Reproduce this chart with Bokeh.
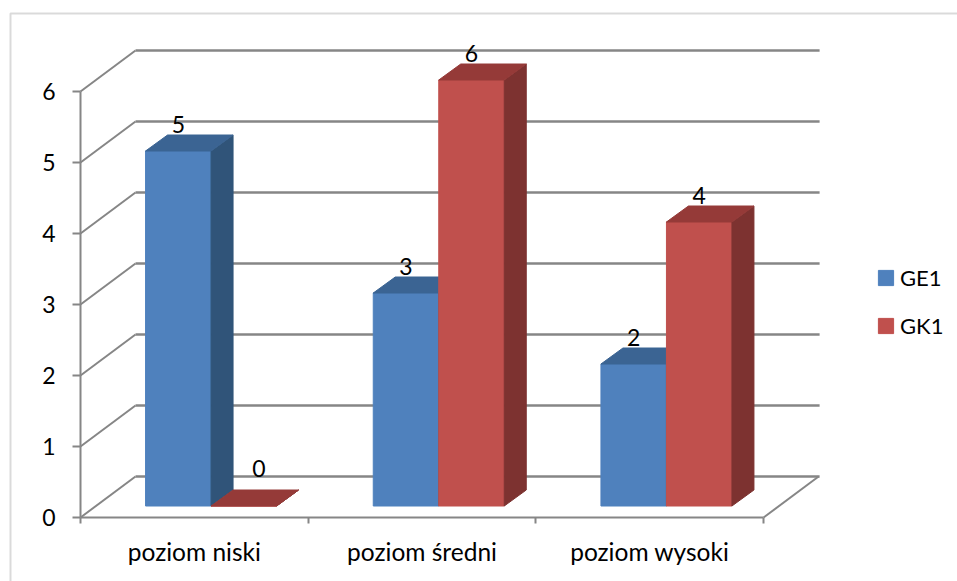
from bokeh.plotting import figure
from bokeh.models import Range1d, FixedTicker, Legend, LegendItem, BoxAnnotation, ColumnDataSource
from bokeh.core.properties import value
from bokeh.embed import file_html
from bokeh.resources import INLINE

categories = ["poziom niski", "poziom średni", "poziom wysoki"]
ge1 = [5, 3, 2]
gk1 = [0, 6, 4]
y_ticks = [0, 1, 2, 3, 4, 5, 6]

FONT = "Lato"
FS = "23px"
FS_LEG = "22px"
FS_CAT = "24.5px"
GRID = "#868686"
X0, Y0 = 80, 517           # window pixels of the origin
PX_X, PX_Y = 227.7, 71.0   # pixels per category / per unit
W, H = 957, 581
DEPTH_X, DEPTH_Y = 55 / PX_X, 41 / PX_Y
FRONT_X, FRONT_Y = 16.7 / PX_X, 11.5 / PX_Y
BAR_W = 65.5 / PX_X
BAR_DX, BAR_DY = 22 / PX_X, 16 / PX_Y

p = figure(width=W, height=H, output_backend="svg", toolbar_location=None,
           x_range=Range1d((0 - X0) / PX_X, (W - X0) / PX_X),
           y_range=Range1d((Y0 - H) / PX_Y, Y0 / PX_Y),
           min_border=0, min_border_left=0, min_border_right=0,
           min_border_top=0, min_border_bottom=0)
p.grid.visible = False
p.outline_line_color = None

# chart frame
p.add_layout(BoxAnnotation(left=10, right=970, top=13, bottom=600,
                           left_units="canvas", right_units="canvas",
                           top_units="canvas", bottom_units="canvas",
                           fill_color=None, line_color="#868686", line_width=2))

# axes
xa, ya = p.xaxis[0], p.yaxis[0]
n = len(categories)
xa.fixed_location = 0
ya.fixed_location = 0
ya.ticker = FixedTicker(ticks=y_ticks)
ya.bounds = (min(y_ticks), max(y_ticks))
xa.ticker = FixedTicker(ticks=[i + 0.5 for i in range(n)], minor_ticks=list(range(n + 1)))
xa.major_label_overrides = {i + 0.5: c for i, c in enumerate(categories)}
xa.bounds = (0, n)
for a in (xa, ya):
    a.axis_line_color = GRID
    a.axis_line_width = 2
    a.major_label_text_font = FONT
    a.major_label_text_color = "#000000"
ya.major_label_text_font_size = FS
xa.major_label_text_font_size = FS_CAT
ya.major_tick_line_color = GRID
ya.major_tick_line_width = 2
ya.major_tick_out = 8
ya.major_tick_in = 0
ya.minor_tick_line_color = None
ya.major_label_standoff = 17
xa.major_tick_line_color = None
xa.major_tick_out = 0
xa.major_tick_in = 0
xa.minor_tick_line_color = GRID
xa.minor_tick_line_width = 2
xa.minor_tick_out = 6
xa.minor_tick_in = 0
xa.major_label_standoff = 13

# walls: gridlines going back and along the rear
p.segment([0] * len(y_ticks), y_ticks, [DEPTH_X] * len(y_ticks),
          [v + DEPTH_Y for v in y_ticks], line_color=GRID, line_width=2)
p.segment([DEPTH_X] * len(y_ticks), [v + DEPTH_Y for v in y_ticks],
          [n + DEPTH_X + 1 / PX_X] * len(y_ticks), [v + DEPTH_Y for v in y_ticks],
          line_color=GRID, line_width=2.5)
p.segment([n], [0], [n + DEPTH_X], [DEPTH_Y], line_color=GRID, line_width=2)

series = [(ge1, 0, "#4F81BD", "#3B6493", "#305479", "GE1"),
          (gk1, 1, "#C0504D", "#953A38", "#7D3230", "GK1")]
items = []
for vals, k, front, top, side, name in series:
    base = FRONT_Y
    lefts = [i + 0.5 + FRONT_X - BAR_W + k * BAR_W for i in range(n)]
    rights = [l + BAR_W for l in lefts]
    tops = [base + v for v in vals]
    r = p.quad(left=lefts, right=rights, bottom=[base] * n, top=tops,
               fill_color=front, line_color=front, line_width=1)
    p.patches([[rr, rr + BAR_DX, rr + BAR_DX, rr] for rr in rights],
              [[base, base + BAR_DY, t + BAR_DY, t] for t in tops],
              fill_color=side, line_color=side, line_width=1)
    p.patches([[l, l + BAR_DX, rr + BAR_DX, rr] for l, rr in zip(lefts, rights)],
              [[t, t + BAR_DY, t + BAR_DY, t] for t in tops],
              fill_color=top, line_color=top, line_width=1)
    items.append(LegendItem(label=name, renderers=[r]))
    src = ColumnDataSource(dict(
        x=[l + BAR_W / 2 for l in lefts], y=tops, t=[str(v) for v in vals],
        xo=[15 if v == 0 else 0 for v in vals],
        yo=[-38 if v == 0 else -27 for v in vals]))
    p.text("x", "y", text="t", source=src, x_offset="xo", y_offset="yo",
           text_font=value(FONT), text_font_size=value(FS), text_color="#000000",
           text_align="center", text_baseline="middle")

leg = Legend(items=items, location=(876, 242), orientation="vertical",
             glyph_width=19, glyph_height=19, label_standoff=5, spacing=21,
             padding=0, margin=0, border_line_color=None, background_fill_color=None,
             label_text_font=FONT, label_text_font_size=FS_LEG, label_text_color="#000000",
             label_height=15, label_text_baseline="middle")
p.add_layout(leg, "center")

open("out.html", "w").write(file_html(p, INLINE))
